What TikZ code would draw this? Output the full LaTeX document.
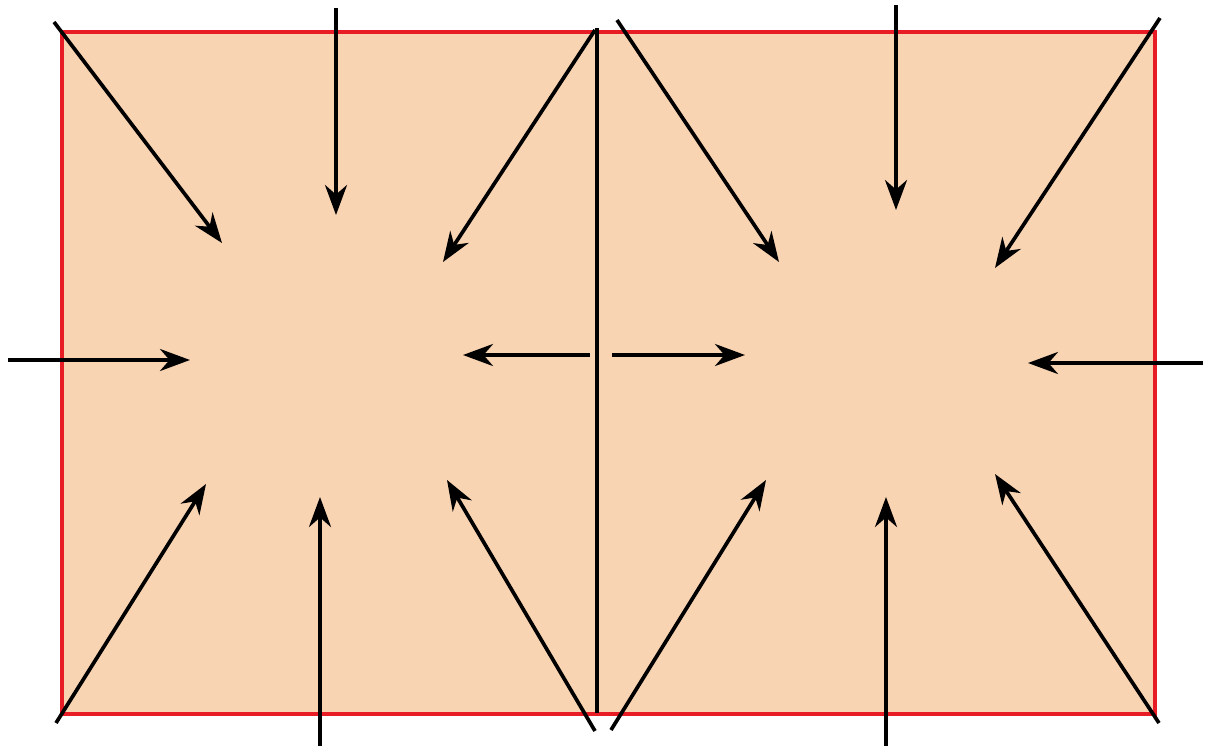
\documentclass[tikz,border=0pt]{standalone}
\usepackage{xcolor}
\usepackage{tikz}
\usetikzlibrary{arrows.meta}
\definecolor{peach}{RGB}{249,212,178}
\definecolor{rimred}{RGB}{232,28,36}

\begin{document}
\begin{tikzpicture}[x=0.02cm, y=-0.02cm,
    flow/.style={line width=2.1pt, -{Stealth[length=6mm, width=4.4mm, inset=1.9mm]}}]
        \useasboundingbox (0,0) rectangle (1205,748);
        \fill[peach] (62,32) rectangle (1155,714);
        \draw[rimred, line width=2pt] (62,32) rectangle (1155,714);
        \coordinate (top) at (597,28);
        \coordinate (bot) at (597,713);
        \draw[line width=2.1pt] (top) -- (bot);

        % left cell
        \coordinate (l1s) at (54,22);   \coordinate (l1t) at (222,243);
        \coordinate (l2s) at (336,8);   \coordinate (l2t) at (336,215);
        \coordinate (l3s) at (595,30);  \coordinate (l3t) at (443,262);
        \coordinate (l4s) at (8,360);   \coordinate (l4t) at (190,360);
        \coordinate (l5s) at (590,355); \coordinate (l5t) at (463,355);
        \coordinate (l6s) at (56,723);  \coordinate (l6t) at (206,484);
        \coordinate (l7s) at (320,746); \coordinate (l7t) at (320,497);
        \coordinate (l8s) at (595,731); \coordinate (l8t) at (447,480);

        % right cell
        \coordinate (r1s) at (617,20);   \coordinate (r1t) at (779,262);
        \coordinate (r2s) at (896,5);    \coordinate (r2t) at (896,210);
        \coordinate (r3s) at (1160,18);  \coordinate (r3t) at (995,268);
        \coordinate (r4s) at (612,355);  \coordinate (r4t) at (745,355);
        \coordinate (r5s) at (1203,363); \coordinate (r5t) at (1028,363);
        \coordinate (r6s) at (611,730);  \coordinate (r6t) at (766,480);
        \coordinate (r7s) at (886,746);  \coordinate (r7t) at (886,497);
        \coordinate (r8s) at (1159,723); \coordinate (r8t) at (995,474);

        \draw[flow] (l1s) -- (l1t);
        \draw[flow] (l2s) -- (l2t);
        \draw[flow] (l3s) -- (l3t);
        \draw[flow] (l4s) -- (l4t);
        \draw[flow] (l5s) -- (l5t);
        \draw[flow] (l6s) -- (l6t);
        \draw[flow] (l7s) -- (l7t);
        \draw[flow] (l8s) -- (l8t);
        \draw[flow] (r1s) -- (r1t);
        \draw[flow] (r2s) -- (r2t);
        \draw[flow] (r3s) -- (r3t);
        \draw[flow] (r4s) -- (r4t);
        \draw[flow] (r5s) -- (r5t);
        \draw[flow] (r6s) -- (r6t);
        \draw[flow] (r7s) -- (r7t);
        \draw[flow] (r8s) -- (r8t);
\end{tikzpicture}
\end{document}
